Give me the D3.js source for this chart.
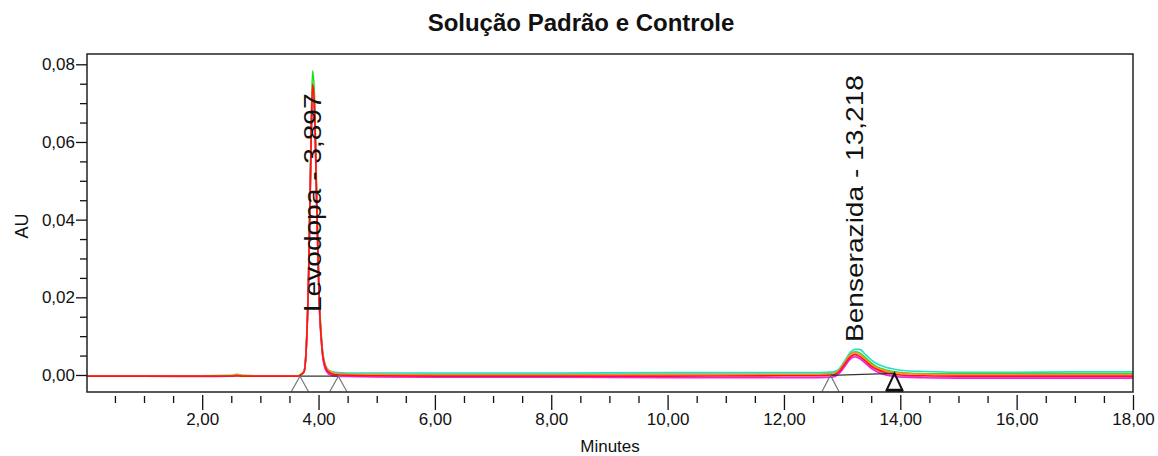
<!DOCTYPE html>
<html>
<head>
<meta charset="utf-8">
<script src="https://cdn.jsdelivr.net/npm/d3@7"></script>
<style>
  body { margin: 0; background: #fff; }
  svg { display: block; font-family: "Liberation Sans", Arial, sans-serif; }
</style>
</head>
<body>
<svg id="chart" width="1158" height="456"></svg>
<script>
// retention times (min) shared by all traces
const times = [
  0.02, 1.0, 2.0, 2.5, 2.6, 2.7, 3.0, 3.5,
  3.65, 3.70, 3.75, 3.79, 3.83, 3.87, 3.897, 3.93, 3.97, 4.01, 4.06, 4.11, 4.17, 4.25, 4.35,
  4.5, 5.0, 6.0, 8.0, 10.0, 12.0,
  12.6, 12.85, 12.95, 13.05, 13.15, 13.22, 13.3, 13.4, 13.5, 13.6, 13.75, 13.9, 14.1, 14.4,
  15.0, 16.0, 17.0, 18.0
];

// absorbance (AU) of each injection
const greenValues = [
  -0.0002, -0.0002, -0.0002, -0.0001, 0.0002, -0.0001, -0.0002, -0.0002,
  -0.0002, 0.0002, 0.0010, 0.0077, 0.0273, 0.0610, 0.0783, 0.0720, 0.0455, 0.0212, 0.0076, 0.0027, 0.0011, 0.0005, 0.0003,
  0.0002, 0.0002, 0.0002, 0.0002, 0.0002, 0.0002,
  0.0002, 0.0004, 0.0013, 0.0035, 0.0055, 0.0060, 0.0057, 0.0045, 0.0031, 0.0021, 0.0013, 0.0008, 0.0005, 0.0003,
  0.0003, 0.0003, 0.0003, 0.0003
];
const cyanValues = [
  -0.0003, -0.0003, -0.0003, -0.0003, -0.0001, -0.0003, -0.0003, -0.0003,
  -0.0003, 0.0001, 0.0008, 0.0072, 0.0258, 0.0578, 0.0742, 0.0688, 0.0436, 0.0205, 0.0074, 0.0029, 0.0013, 0.0008, 0.0006,
  0.0005, 0.0005, 0.0005, 0.0005, 0.0006, 0.0006,
  0.0006, 0.0008, 0.0016, 0.0038, 0.0060, 0.0066, 0.0066, 0.0053, 0.0039, 0.0029, 0.0020, 0.0015, 0.0011, 0.0009,
  0.0007, 0.0007, 0.0008, 0.0008
];
const pinkValues = [
  -0.0003, -0.0003, -0.0003, -0.0003, -0.0002, -0.0003, -0.0003, -0.0003,
  -0.0003, 0.0001, 0.0008, 0.0071, 0.0257, 0.0576, 0.0739, 0.0681, 0.0428, 0.0196, 0.0066, 0.0020, 0.0005, -0.0001, -0.0003,
  -0.0003, -0.0004, -0.0005, -0.0005, -0.0006, -0.0006,
  -0.0006, -0.0004, 0.0005, 0.0025, 0.0044, 0.0049, 0.0044, 0.0032, 0.0019, 0.0010, 0.0002, -0.0002, -0.0004, -0.0005,
  -0.0006, -0.0006, -0.0006, -0.0006
];
const magentaValues = [
  -0.0003, -0.0003, -0.0004, -0.0003, -0.0002, -0.0003, -0.0003, -0.0003,
  -0.0003, 0.0001, 0.0008, 0.0071, 0.0256, 0.0574, 0.0737, 0.0678, 0.0425, 0.0194, 0.0064, 0.0018, 0.0003, -0.0002, -0.0004,
  -0.0004, -0.0005, -0.0006, -0.0006, -0.0007, -0.0007,
  -0.0007, -0.0005, 0.0004, 0.0023, 0.0042, 0.0047, 0.0042, 0.0030, 0.0017, 0.0008, 0.0000, -0.0004, -0.0006, -0.0007,
  -0.0008, -0.0008, -0.0008, -0.0008
];
const orangeValues = [
  -0.0002, -0.0002, -0.0002, -0.0002, 0.0001, -0.0002, -0.0002, -0.0002,
  -0.0002, 0.0002, 0.0009, 0.0073, 0.0260, 0.0582, 0.0746, 0.0690, 0.0436, 0.0204, 0.0073, 0.0027, 0.0012, 0.0006, 0.0003,
  0.0002, 0.0001, 0.0000, 0.0000, 0.0001, 0.0001,
  0.0001, 0.0003, 0.0013, 0.0034, 0.0054, 0.0058, 0.0053, 0.0041, 0.0027, 0.0018, 0.0010, 0.0006, 0.0004, 0.0002,
  0.0001, 0.0001, 0.0001, 0.0001
];
const redValues = [
  -0.0003, -0.0003, -0.0003, -0.0003, -0.0002, -0.0003, -0.0003, -0.0003,
  -0.0003, 0.0001, 0.0008, 0.0072, 0.0260, 0.0584, 0.0749, 0.0689, 0.0433, 0.0200, 0.0068, 0.0023, 0.0008, 0.0002, 0.0000,
  -0.0001, -0.0002, -0.0003, -0.0003, -0.0003, -0.0002,
  -0.0002, 0.0000, 0.0009, 0.0029, 0.0048, 0.0053, 0.0048, 0.0036, 0.0023, 0.0014, 0.0006, 0.0002, -0.0001, -0.0002,
  -0.0003, -0.0003, -0.0003, -0.0003
];

const traces = [greenValues, cyanValues, pinkValues, magentaValues, orangeValues, redValues];
const traceColors = ["#1ee01e", "#22e2c6", "#ff80c8", "#f020f0", "#ff8c1c", "#ff1414"];

// integrated peaks
const peakNames = ["Levodopa", "Benserazida"];
const peakTimes = [3.897, 13.218];
const startTimes = [3.68, 12.80];
const startValues = [-0.0003, -0.0001];
const endTimes = [4.34, 13.90];
const endValues = [-0.0003, 0.0004];

const xMajorTicks = [2, 4, 6, 8, 10, 12, 14, 16, 18];
const yMajorTicks = [0, 0.02, 0.04, 0.06, 0.08];

// layout
const pl = 87, pr = 1133, pt = 54, pb = 392;
const svg = d3.select("#chart");

const x = d3.scaleLinear().domain([0.02, 18]).range([pl, pr]);
const y = d3.scaleLinear().domain([-0.00438, 0.08265]).range([pb, pt]);

const loc = d3.formatLocale({decimal: ",", thousands: ".", grouping: [3], currency: ["", ""]});
const f2 = loc.format(".2f");
const f3 = loc.format(".3f");

function stretch(sel, k) {
  sel.each(function() {
    const len = this.getComputedTextLength();
    this.setAttribute("textLength", len * k);
    this.setAttribute("lengthAdjust", "spacingAndGlyphs");
  });
}

// clip
svg.append("clipPath").attr("id", "plotclip")
  .append("rect").attr("x", pl).attr("y", pt).attr("width", pr - pl).attr("height", pb - pt);

// title
svg.append("text")
  .attr("x", 581).attr("y", 31)
  .attr("text-anchor", "middle")
  .attr("font-size", 24).attr("font-weight", "bold")
  .attr("fill", "#111")
  .text("Solução Padrão e Controle");

// x axis (ticks hang a little below the frame)
const xMinor = d3.range(0.5, 18, 0.5).filter(d => xMajorTicks.indexOf(d) < 0);
svg.append("g")
  .attr("transform", `translate(0,${pb + 4})`)
  .call(d3.axisBottom(x).tickValues(xMinor).tickSize(7).tickFormat(""))
  .call(g => g.select(".domain").remove());
const gx = svg.append("g")
  .attr("transform", `translate(0,${pb + 3})`)
  .call(d3.axisBottom(x).tickValues(xMajorTicks).tickSize(15).tickPadding(3).tickFormat(f2))
  .call(g => g.select(".domain").remove());
gx.selectAll("text").attr("font-size", 17).attr("font-family", "Liberation Sans, Arial").attr("fill", "#111");

// y axis
const yMinor = d3.range(1, 17).map(i => i * 0.005).filter(d => Math.abs((d / 0.02) - Math.round(d / 0.02)) > 1e-6);
svg.append("g")
  .attr("transform", `translate(${pl},0)`)
  .call(d3.axisLeft(y).tickValues(yMinor).tickSize(7).tickFormat(""))
  .call(g => g.select(".domain").remove());
const gy = svg.append("g")
  .attr("transform", `translate(${pl},0)`)
  .call(d3.axisLeft(y).tickValues(yMajorTicks).tickSize(11).tickPadding(1).tickFormat(f2))
  .call(g => g.select(".domain").remove());
gy.selectAll("text").attr("font-size", 17).attr("font-family", "Liberation Sans, Arial").attr("fill", "#111");
svg.selectAll(".tick line").attr("stroke", "#111").attr("stroke-width", 1.3);

// axis titles
svg.append("text")
  .attr("transform", `translate(28,226) rotate(-90)`)
  .attr("text-anchor", "middle")
  .attr("font-size", 18).attr("fill", "#111")
  .text("AU");
svg.append("text")
  .attr("x", (pl + pr) / 2).attr("y", 452)
  .attr("text-anchor", "middle")
  .attr("font-size", 17).attr("fill", "#111")
  .text("Minutes");

// traces
const line = d3.line()
  .x((d, i) => x(times[i]))
  .y(d => y(d))
  .curve(d3.curveMonotoneX);

const plot = svg.append("g").attr("clip-path", "url(#plotclip)");
plot.selectAll("path.trace")
  .data(traces)
  .join("path")
  .attr("class", "trace")
  .attr("fill", "none")
  .attr("stroke", (d, i) => traceColors[i])
  .attr("stroke-width", 1.6)
  .attr("d", line);

// integration baselines
plot.selectAll("line.base")
  .data(peakNames)
  .join("line")
  .attr("class", "base")
  .attr("x1", (d, i) => x(startTimes[i])).attr("y1", (d, i) => y(startValues[i]))
  .attr("x2", (d, i) => x(endTimes[i])).attr("y2", (d, i) => y(endValues[i]))
  .attr("stroke", "#333").attr("stroke-width", 1.3);

// start / end triangles
const marks = [];
peakNames.forEach((n, i) => {
  marks.push({t: startTimes[i], v: startValues[i], bold: false});
  marks.push({t: endTimes[i], v: endValues[i], bold: i === 1});
});
const tri = d => {
  const cx = x(d.t), cy = y(d.v);
  return `M${cx - 8.5},${pb - 0.5}L${cx},${cy}L${cx + 8.5},${pb - 0.5}`;
};
plot.selectAll("path.tri")
  .data(marks)
  .join("path")
  .attr("class", "tri")
  .attr("fill", "none")
  .attr("stroke", d => d.bold ? "#111" : "#777")
  .attr("stroke-width", d => d.bold ? 2 : 1.2)
  .attr("d", tri);
plot.selectAll("line.bar")
  .data(marks.filter(d => d.bold))
  .join("line")
  .attr("class", "bar")
  .attr("x1", d => x(d.t) - 8.5).attr("x2", d => x(d.t) + 8.5)
  .attr("y1", pb - 1.5).attr("y2", pb - 1.5)
  .attr("stroke", "#111").attr("stroke-width", 3.5);

// peak labels
const labelBottoms = [312, 342];
svg.selectAll("text.peak")
  .data(peakNames)
  .join("text")
  .attr("class", "peak")
  .attr("transform", (d, i) => `translate(${x(peakTimes[i]) + 8},${labelBottoms[i]}) rotate(-90)`)
  .attr("font-size", 24)
  .attr("fill", "#111")
  .text((d, i) => `${d} - ${f3(peakTimes[i])}`)
  .call(stretch, 1.17);

// frame
svg.append("rect")
  .attr("x", pl).attr("y", pt)
  .attr("width", pr - pl).attr("height", pb - pt)
  .attr("fill", "none").attr("stroke", "#222").attr("stroke-width", 1.5);
</script>
</body>
</html>
